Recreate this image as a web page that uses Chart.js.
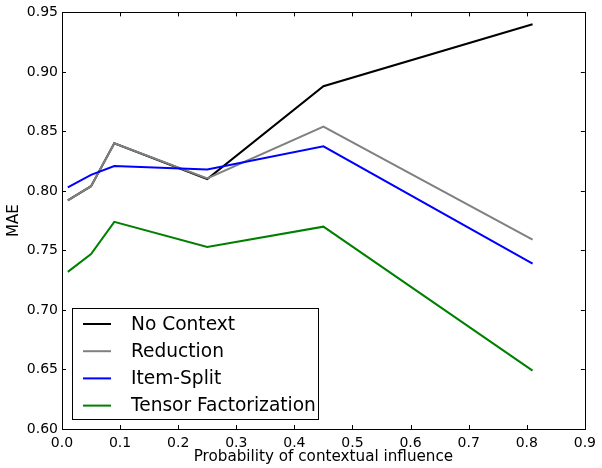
<!DOCTYPE html>
<html>
<head>
<meta charset="utf-8">
<script src="https://cdn.jsdelivr.net/npm/chart.js@4.4.1/dist/chart.umd.min.js"></script>
<style>
  html, body { margin: 0; padding: 0; background: #fff; }
  #wrap { width: 602px; height: 468px; }
</style>
</head>
<body>
<div id="wrap"><canvas id="chart" width="602" height="468"></canvas></div>
<script>
// data
const probs = [0.01, 0.05, 0.09, 0.25, 0.45, 0.81];
const noContext = [0.792, 0.804, 0.840, 0.810, 0.888, 0.940];
const reduction = [0.792, 0.804, 0.840, 0.8105, 0.854, 0.759];
const itemSplit = [0.803, 0.8135, 0.821, 0.818, 0.8375, 0.739];
const tensorFact = [0.732, 0.747, 0.774, 0.753, 0.770, 0.649];
const seriesNames = ['No Context', 'Reduction', 'Item-Split', 'Tensor Factorization'];

const FONT = 'DejaVu Sans';

function pts(vals) {
  return vals.map((v, i) => ({ x: probs[i], y: v }));
}

// matplotlib style frame + inward ticks on all four sides
const framePlugin = {
  id: 'frame',
  afterDraw(chart) {
    const { ctx, chartArea: a, scales } = chart;
    ctx.save();
    ctx.strokeStyle = '#000';
    ctx.lineWidth = 1;
    ctx.beginPath();
    scales.x.ticks.forEach(t => {
      const px = Math.round(scales.x.getPixelForValue(t.value)) + 0.5;
      ctx.moveTo(px, a.bottom); ctx.lineTo(px, a.bottom - 4);
      ctx.moveTo(px, a.top); ctx.lineTo(px, a.top + 4);
    });
    scales.y.ticks.forEach(t => {
      const py = Math.round(scales.y.getPixelForValue(t.value)) + 0.5;
      ctx.moveTo(a.left, py); ctx.lineTo(a.left + 4, py);
      ctx.moveTo(a.right, py); ctx.lineTo(a.right - 4, py);
    });
    ctx.stroke();
    ctx.strokeRect(Math.round(a.left) + 0.5, Math.round(a.top) + 0.5,
      Math.round(a.right - a.left), Math.round(a.bottom - a.top));
    ctx.restore();
  }
};

// legend box in the lower left of the plot
const legendPlugin = {
  id: 'boxLegend',
  afterDraw(chart) {
    const ctx = chart.ctx;
    const a = chart.chartArea;
    const x0 = a.left + 10, y0 = a.bottom - 121, w = 246, h = 111;
    ctx.save();
    ctx.fillStyle = '#fff';
    ctx.fillRect(x0, y0, w, h);
    ctx.strokeStyle = '#000';
    ctx.lineWidth = 1;
    ctx.strokeRect(x0 + 0.5, y0 + 0.5, w, h);
    ctx.font = '18.6px "' + FONT + '"';
    ctx.textBaseline = 'middle';
    chart.data.datasets.forEach((ds, i) => {
      const y = y0 + 16 + i * 27.2;
      ctx.strokeStyle = ds.borderColor;
      ctx.lineWidth = 2;
      ctx.beginPath();
      ctx.moveTo(x0 + 11, y); ctx.lineTo(x0 + 39, y);
      ctx.stroke();
      ctx.fillStyle = '#000';
      ctx.fillText(ds.label, x0 + 59, y + 1);
    });
    ctx.restore();
  }
};

const colors = ['#000000', '#808080', '#0000ff', '#008000'];
const allSeries = [noContext, reduction, itemSplit, tensorFact];

new Chart(document.getElementById('chart'), {
  type: 'line',
  data: {
    datasets: allSeries.map((s, i) => ({
      label: seriesNames[i],
      data: pts(s),
      borderColor: colors[i],
      borderWidth: 2,
      pointRadius: 0,
      tension: 0,
      fill: false,
      order: 4 - i
    }))
  },
  options: {
    responsive: false,
    animation: false,
    devicePixelRatio: 1,
    layout: { padding: { left: 0, right: 12, top: 9, bottom: 0 } },
    plugins: { legend: { display: false }, tooltip: { enabled: false } },
    scales: {
      x: {
        type: 'linear', min: 0, max: 0.9,
        grid: { display: false, drawTicks: false },
        border: { display: false },
        ticks: {
          stepSize: 0.1, padding: 6, color: '#000', maxRotation: 0,
          font: { family: FONT, size: 14 },
          callback: v => v.toFixed(1)
        },
        title: {
          display: true, text: 'Probability of contextual influence', color: '#000',
          font: { family: FONT, size: 15.2 }, padding: { top: 0, bottom: 2 }
        },
        afterFit: s => { s.height = 39; }
      },
      y: {
        type: 'linear', min: 0.6, max: 0.95,
        grid: { display: false, drawTicks: false },
        border: { display: false },
        ticks: {
          stepSize: 0.05, padding: 4, color: '#000',
          font: { family: FONT, size: 14 },
          callback: v => v.toFixed(2)
        },
        title: {
          display: true, text: 'MAE', color: '#000',
          font: { family: FONT, size: 15 }, padding: { top: 5, bottom: 0 }
        },
        afterFit: s => { s.width = 62; }
      }
    }
  },
  plugins: [framePlugin, legendPlugin]
});
</script>
</body>
</html>
